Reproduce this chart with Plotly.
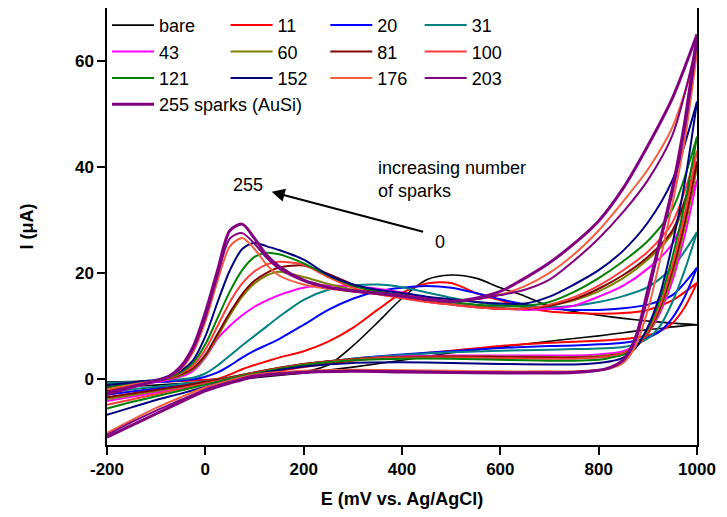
import plotly.graph_objects as go

# Potential grids (mV) for forward (anodic) and reverse scans
E_FWD = [-200, -150, -100, -75, -50, -25, 0, 25, 50, 75, 100, 125, 150, 200, 250,
         300, 350, 400, 450, 500, 550, 600, 650, 700, 750, 800, 850, 900, 950, 1000]
E_REV = [1000, 975, 950, 925, 900, 875, 850, 825, 800, 750, 700, 600, 500, 400,
         300, 200, 100, 50, 0, -50, -100, -150, -200]

LABELS = ["bare", "11", "20", "31", "43", "60", "81", "100", "121", "152", "176", "203",
          "255 sparks (AuSi)"]
COLORS = ["#000000", "#FF0000", "#0000FF", "#008080", "#FF00FF", "#808000", "#800000",
          "#FF3A3A", "#008000", "#000080", "#F4603F", "#800080", "#800080"]

X_TICKS = [-200, 0, 200, 400, 600, 800, 1000]
X_TICKTEXT = ["-200", "0", "200", "400", "600", "800", "1000"]
Y_TICKS = [0, 20, 40, 60]

# Current (uA) – forward scans
I_BARE_F = [-0.6, -0.5, -0.4, -0.4, -0.3, -0.3, -0.2, -0.1, 0.1, 0.3, 0.5, 0.7, 0.9, 1.3, 2.6,
            6.2, 10.6, 15.2, 18.7, 19.6, 19.0, 17.2, 15.6, 13.7, 12.7, 12.0, 11.4, 10.9, 10.5, 10.2]
I_11_F = [-0.8, -0.7, -0.6, -0.5, -0.4, -0.3, -0.2, 0.0, 0.8, 1.8, 2.6, 3.3, 4.0, 5.2, 7.0,
          9.6, 13.0, 16.2, 18.0, 18.1, 16.2, 14.8, 13.5, 12.7, 12.4, 12.3, 12.4, 13.0, 14.8, 18.1]
I_20_F = [-1.0, -0.8, -0.6, -0.5, -0.3, -0.1, 0.4, 1.2, 2.5, 4.0, 5.3, 6.4, 7.5, 10.2, 13.0,
          15.1, 16.5, 17.2, 17.5, 17.2, 16.2, 15.0, 14.0, 13.2, 13.0, 13.0, 13.3, 14.0, 15.8, 21.0]
I_31_F = [-0.8, -0.6, -0.4, -0.2, -0.1, 0.2, 1.0, 2.5, 4.4, 6.3, 8.1, 9.9, 11.7, 14.9, 16.8,
          17.6, 17.8, 17.3, 16.3, 15.3, 14.5, 13.9, 13.6, 13.5, 13.8, 14.5, 15.6, 17.3, 21.0, 27.7]
I_43_F = [-2.8, -1.6, -0.6, -0.2, 0.4, 1.5, 4.0, 7.6, 10.0, 12.0, 13.6, 14.8, 15.8, 17.2, 17.6,
          17.4, 17.0, 16.3, 15.3, 14.5, 13.9, 13.4, 13.0, 13.2, 13.8, 15.5, 17.6, 20.8, 25.5, 37.5]
I_60_F = [-2.0, -1.2, -0.4, 0.0, 0.6, 1.8, 4.2, 8.0, 12.0, 15.5, 18.0, 19.5, 20.2, 19.2, 17.9,
          16.8, 16.0, 15.3, 14.6, 14.1, 13.6, 13.3, 13.3, 13.8, 14.8, 16.5, 19.0, 22.5, 27.5, 40.0]
I_81_F = [-2.3, -1.3, -0.4, 0.1, 0.8, 2.0, 4.5, 8.5, 12.5, 16.0, 18.5, 20.0, 21.0, 21.4, 19.8,
          17.8, 16.2, 15.4, 14.6, 14.0, 13.5, 13.2, 13.2, 13.8, 15.0, 17.0, 19.6, 23.0, 28.0, 41.0]
I_100_F = [-2.6, -1.4, -0.4, 0.2, 1.0, 2.5, 5.5, 10.0, 14.5, 18.0, 20.3, 21.6, 22.1, 21.5, 19.2,
           17.2, 16.0, 15.2, 14.5, 14.0, 13.5, 13.2, 13.2, 14.0, 15.4, 17.6, 20.5, 24.0, 29.5, 43.0]
I_121_F = [-1.5, -0.9, -0.3, 0.3, 1.2, 3.0, 6.5, 11.5, 16.5, 20.5, 23.0, 23.8, 23.5, 21.8, 19.5,
           17.6, 16.5, 15.8, 15.0, 14.5, 14.0, 13.8, 13.8, 14.5, 16.4, 19.0, 22.2, 26.0, 32.0, 45.7]
I_152_F = [-1.2, -0.7, -0.2, 0.5, 1.5, 3.5, 8.0, 14.5, 20.5, 24.5, 25.7, 25.0, 24.3, 22.5, 19.6,
           17.8, 16.8, 16.2, 15.5, 15.0, 14.5, 14.2, 14.2, 15.5, 17.8, 20.5, 24.2, 29.5, 37.5, 52.3]
I_176_F = [-2.0, -1.1, -0.3, 0.3, 1.8, 5.0, 10.8, 18.5, 25.0, 26.6, 24.5, 21.5, 19.5, 17.8, 17.0,
           16.5, 16.0, 15.5, 15.0, 14.7, 15.0, 15.9, 17.5, 20.0, 23.5, 28.0, 33.5, 39.5, 47.5, 61.7]
I_203_F = [-2.6, -1.4, -0.4, 0.3, 2.0, 5.5, 11.5, 19.5, 26.5, 27.5, 25.5, 22.8, 20.8, 18.5, 17.2,
           16.5, 16.0, 15.5, 15.0, 14.7, 15.0, 15.8, 16.8, 18.7, 22.3, 26.5, 31.5, 37.5, 46.0, 63.5]
I_255_F = [-3.0, -1.6, -0.4, 0.4, 2.3, 6.0, 12.5, 20.5, 28.0, 29.2, 26.5, 23.3, 21.2, 18.6, 17.3,
           16.6, 16.2, 15.7, 15.0, 14.6, 15.2, 16.5, 19.0, 21.9, 25.5, 29.8, 36.0, 44.0, 53.0, 65.0]

# Current (uA) – reverse scans
I_BARE_R = [10.2, 10.0, 9.8, 9.5, 9.3, 9.0, 8.7, 8.4, 8.1, 7.6, 7.1, 6.0, 4.9, 3.5,
            2.2, 1.1, 0.2, -0.2, -0.6, -0.9, -1.2, -1.4, -1.6]
I_11_R = [18.1, 13.5, 10.5, 9.0, 8.2, 7.8, 7.5, 7.3, 7.2, 7.0, 6.8, 6.2, 5.3, 4.4,
          3.4, 2.2, 0.8, 0.0, -0.6, -1.3, -2.0, -2.8, -3.6]
I_20_R = [21.0, 15.5, 11.5, 9.0, 7.8, 7.2, 6.8, 6.6, 6.5, 6.3, 6.2, 5.8, 5.2, 4.6,
          3.8, 2.6, 1.0, 0.2, -0.6, -1.2, -1.8, -2.4, -3.0]
I_31_R = [27.7, 20.5, 14.5, 10.0, 7.6, 6.5, 6.0, 5.8, 5.7, 5.6, 5.5, 5.3, 5.0, 4.5,
          3.8, 2.7, 1.2, 0.3, -0.5, -1.0, -1.5, -2.0, -2.6]
I_43_R = [37.5, 27.0, 18.5, 12.5, 8.5, 6.3, 5.2, 4.8, 4.6, 4.4, 4.4, 4.4, 4.4, 4.2,
          3.7, 2.7, 1.0, 0.0, -0.9, -1.8, -2.6, -3.4, -4.2]
I_60_R = [40.0, 28.5, 19.5, 13.0, 8.5, 6.0, 4.9, 4.5, 4.3, 4.1, 4.1, 4.2, 4.2, 4.1,
          3.7, 2.8, 1.2, 0.2, -0.7, -1.5, -2.3, -3.1, -3.8]
I_81_R = [41.0, 29.5, 20.5, 13.5, 8.8, 6.0, 4.8, 4.4, 4.1, 4.0, 4.0, 4.1, 4.2, 4.1,
          3.7, 2.8, 1.2, 0.2, -0.6, -1.4, -2.1, -2.8, -3.5]
I_100_R = [43.0, 31.0, 21.5, 14.0, 9.0, 6.0, 4.8, 4.3, 4.0, 3.8, 3.8, 3.9, 4.0, 4.0,
           3.6, 2.7, 1.1, 0.1, -0.9, -1.9, -2.9, -3.9, -4.9]
I_121_R = [45.7, 33.0, 23.0, 15.0, 9.5, 6.0, 4.5, 4.0, 3.6, 3.4, 3.4, 3.6, 3.8, 3.8,
           3.5, 2.6, 1.0, 0.0, -1.1, -2.2, -3.3, -4.4, -5.6]
I_152_R = [52.3, 37.0, 25.5, 16.0, 9.8, 5.8, 4.0, 3.3, 3.0, 2.7, 2.7, 2.8, 3.0, 3.1,
           3.0, 2.3, 0.8, -0.3, -1.5, -2.8, -4.0, -5.4, -6.8]
I_176_R = [61.7, 45.0, 33.0, 22.5, 13.0, 6.2, 3.0, 2.0, 1.6, 1.4, 1.4, 1.4, 1.5, 1.6,
           1.7, 1.5, 0.8, -0.3, -1.6, -3.5, -5.5, -7.8, -10.2]
I_203_R = [63.5, 47.0, 35.0, 25.5, 15.5, 7.2, 3.4, 2.1, 1.6, 1.3, 1.2, 1.2, 1.3, 1.4,
           1.5, 1.3, 0.6, -0.6, -2.0, -4.0, -6.0, -8.2, -10.6]
I_255_R = [65.0, 48.5, 36.0, 26.2, 16.8, 7.8, 3.6, 2.2, 1.6, 1.2, 1.1, 1.1, 1.2, 1.3,
           1.4, 1.2, 0.4, -0.8, -2.3, -4.4, -6.6, -8.8, -11.0]

FWD = [I_BARE_F, I_11_F, I_20_F, I_31_F, I_43_F, I_60_F, I_81_F, I_100_F, I_121_F,
       I_152_F, I_176_F, I_203_F, I_255_F]
REV = [I_BARE_R, I_11_R, I_20_R, I_31_R, I_43_R, I_60_R, I_81_R, I_100_R, I_121_R,
       I_152_R, I_176_R, I_203_R, I_255_R]

# legend column for each series (4 columns, row-major like the original)
LEGEND_COL = ["legend", "legend2", "legend3", "legend4",
              "legend", "legend2", "legend3", "legend4",
              "legend", "legend2", "legend3", "legend4",
              "legend"]

FONT = "Arial, Liberation Sans, sans-serif"

fig = go.Figure()
for i, name in enumerate(LABELS):
    w = 3 if i == len(LABELS) - 1 else (1.6 if i == 0 else 2)
    line = dict(color=COLORS[i], width=w, shape="spline", smoothing=0.8)
    fig.add_trace(go.Scatter(x=E_FWD, y=FWD[i], mode="lines", name=name, line=line,
                             legend=LEGEND_COL[i], legendgroup=name, showlegend=True))
    fig.add_trace(go.Scatter(x=E_REV, y=REV[i], mode="lines", name=name, line=line,
                             legend=LEGEND_COL[i], legendgroup=name, showlegend=False))

leg_common = dict(font=dict(family=FONT, size=18, color="black"), bgcolor="rgba(0,0,0,0)",
                  borderwidth=0, itemwidth=42, yanchor="top", xanchor="left",
                  tracegroupgap=0, traceorder="normal")
LEG_Y = 1.0025
fig.update_layout(
    legend=dict(x=0.0, y=LEG_Y, **leg_common),
    legend2=dict(x=0.201, y=LEG_Y, **leg_common),
    legend3=dict(x=0.370, y=LEG_Y, **leg_common),
    legend4=dict(x=0.530, y=LEG_Y, **leg_common),
)

# Arrow: increasing number of sparks
fig.add_annotation(x=135, y=35.3, ax=446, ay=27.7, xref="x", yref="y", axref="x", ayref="y",
                   text="", showarrow=True, arrowhead=2, arrowsize=1.3, arrowwidth=2,
                   arrowcolor="black")
fig.add_annotation(x=86, y=36.6, xref="x", yref="y", text="255", showarrow=False,
                   font=dict(family=FONT, size=18, color="black"))
fig.add_annotation(x=478, y=25.8, xref="x", yref="y", text="0", showarrow=False,
                   font=dict(family=FONT, size=18, color="black"))
fig.add_annotation(x=347, y=37.6, xref="x", yref="y", text="increasing number<br>of sparks",
                   showarrow=False, xanchor="left", align="left",
                   font=dict(family=FONT, size=18, color="black"))

axis_common = dict(showgrid=False, zeroline=False, showline=True, linecolor="black",
                   linewidth=1.5, mirror=True, ticks="outside", ticklen=8, tickwidth=1.5,
                   tickcolor="black", automargin=False,
                   tickfont=dict(family=FONT, size=17, color="black", weight="bold"))
fig.update_xaxes(range=[-200, 1000], tickvals=X_TICKS, ticktext=X_TICKTEXT,
                 title=dict(text="E (mV vs. Ag/AgCl)",
                            font=dict(family=FONT, size=18, color="black", weight="bold")),
                 **axis_common)
fig.update_yaxes(range=[-12.5, 70], tickvals=Y_TICKS,
                 title=dict(text="I (μA)", standoff=37,
                            font=dict(family=FONT, size=18, color="black", weight="bold")),
                 **axis_common)

# the page body adds an 8px offset, so the figure is sized to fit the 727x517 window
fig.update_layout(width=711, height=501, margin=dict(l=99, r=22, t=0, b=64, autoexpand=False),
                  plot_bgcolor="white", paper_bgcolor="white")

fig.write_html("out.html")
